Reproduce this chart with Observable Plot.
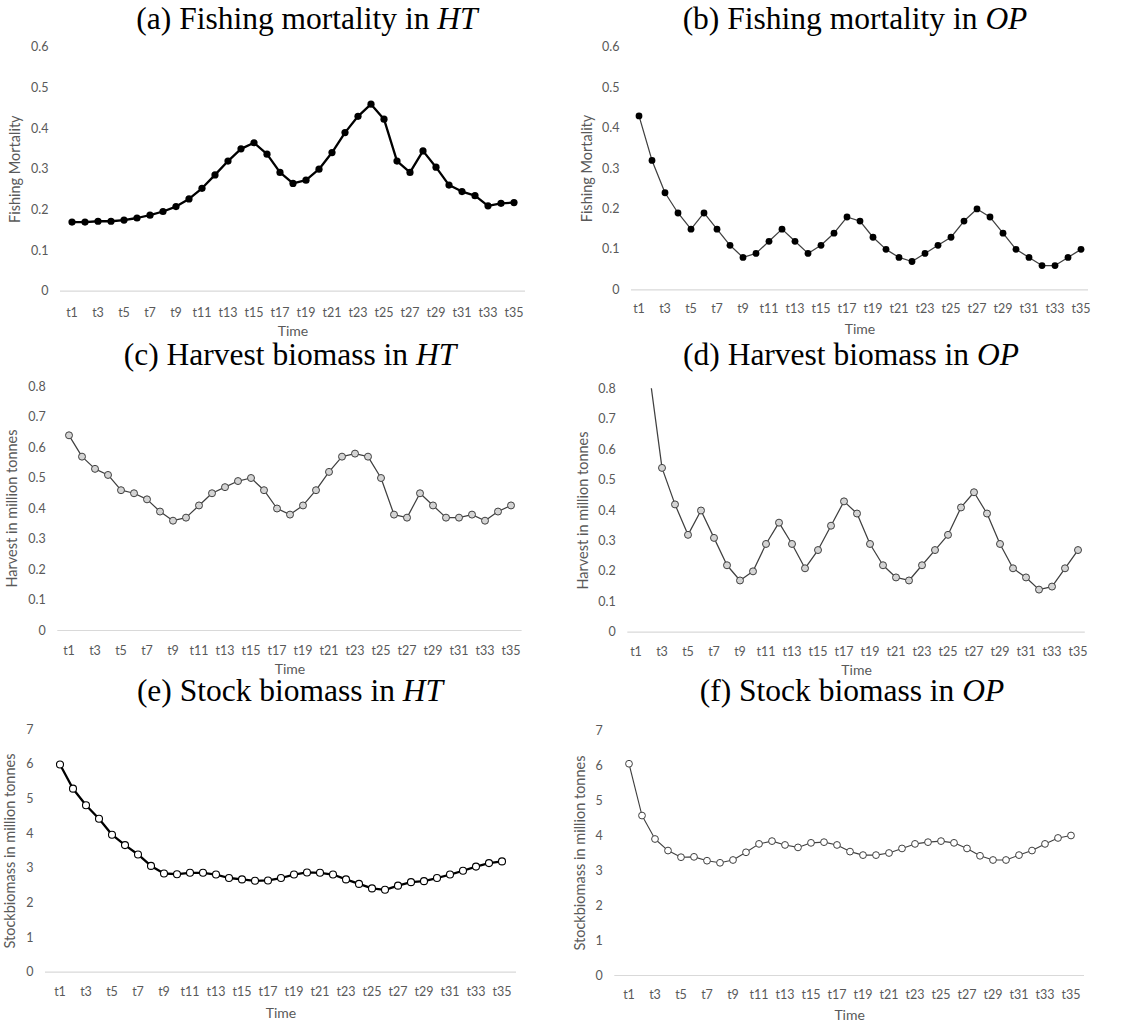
<!DOCTYPE html>
<html><head><meta charset="utf-8">
<script src="https://cdn.jsdelivr.net/npm/d3@7"></script>
<script src="https://cdn.jsdelivr.net/npm/@observablehq/plot@0.6"></script>
<style>
body{margin:0;background:#fff;}
#fig{position:relative;width:1137px;height:1023px;overflow:hidden;background:#fff;}
.title{position:absolute;font-family:"Liberation Serif","Times New Roman",serif;font-size:31.5px;color:#000;white-space:nowrap;transform:translate(-50%,-50%);line-height:24px;height:24px;}
.panel{position:absolute;}
</style></head><body><div id="fig"></div>
<script>
// ---- data ----
const timeLabels = ["t1","t2","t3","t4","t5","t6","t7","t8","t9","t10","t11","t12","t13","t14","t15","t16","t17","t18","t19","t20","t21","t22","t23","t24","t25","t26","t27","t28","t29","t30","t31","t32","t33","t34","t35"];
const xTickLabels = ["t1","t3","t5","t7","t9","t11","t13","t15","t17","t19","t21","t23","t25","t27","t29","t31","t33","t35"];

const fishingHT = [0.17,0.17,0.172,0.172,0.175,0.18,0.187,0.196,0.208,0.227,0.253,0.286,0.32,0.35,0.365,0.337,0.292,0.265,0.273,0.3,0.341,0.39,0.43,0.46,0.423,0.32,0.292,0.345,0.305,0.261,0.245,0.235,0.21,0.216,0.218];
const fishingOP = [0.43,0.32,0.24,0.19,0.15,0.19,0.15,0.11,0.08,0.09,0.12,0.15,0.12,0.09,0.11,0.14,0.18,0.17,0.13,0.10,0.08,0.07,0.09,0.11,0.13,0.17,0.20,0.18,0.14,0.10,0.08,0.06,0.06,0.08,0.10];
const harvestHT = [0.64,0.57,0.53,0.51,0.46,0.45,0.43,0.39,0.36,0.37,0.41,0.45,0.47,0.49,0.50,0.46,0.40,0.38,0.41,0.46,0.52,0.57,0.58,0.57,0.50,0.38,0.37,0.45,0.41,0.37,0.37,0.38,0.36,0.39,0.41];
const harvestOP = [1.25,0.86,0.54,0.42,0.32,0.40,0.31,0.22,0.17,0.20,0.29,0.36,0.29,0.21,0.27,0.35,0.43,0.39,0.29,0.22,0.18,0.17,0.22,0.27,0.32,0.41,0.46,0.39,0.29,0.21,0.18,0.14,0.15,0.21,0.27];
const stockHT = [6.0,5.3,4.82,4.43,3.97,3.67,3.4,3.07,2.85,2.83,2.87,2.87,2.82,2.72,2.68,2.64,2.65,2.72,2.82,2.88,2.87,2.82,2.68,2.55,2.42,2.38,2.5,2.6,2.63,2.72,2.82,2.93,3.05,3.15,3.2];
const stockOP = [6.05,4.57,3.9,3.57,3.38,3.39,3.28,3.22,3.3,3.52,3.76,3.84,3.73,3.66,3.79,3.81,3.73,3.54,3.44,3.44,3.5,3.63,3.76,3.81,3.84,3.79,3.63,3.42,3.3,3.3,3.44,3.57,3.76,3.93,4.0];

const fishingTicks = [0,0.1,0.2,0.3,0.4,0.5,0.6];
const harvestTicks = [0,0.1,0.2,0.3,0.4,0.5,0.6,0.7,0.8];
const stockTicks = [0,1,2,3,4,5,6,7];

const titleMain = ["(a) Fishing mortality in ","(b) Fishing mortality in ","(c) Harvest biomass in ","(d) Harvest biomass in ","(e) Stock biomass in ","(f) Stock biomass in "];
const titleItalic = ["HT","OP","HT","OP","HT","OP"];
const yLabels = ["Fishing Mortality","Fishing Mortality","Harvest in million tonnes","Harvest in million tonnes","Stockbiomass in million tonnes","Stockbiomass in million tonnes"];
const xLabel = "Time";

// ---- styles ----
const tickFont = 12.5;
const labelFont = 14;
const styles = {
  boldFilled: {line:{stroke:"#000",strokeWidth:2.3}, dot:{r:3.6,fill:"#000",stroke:"none"}},
  thinFilled: {line:{stroke:"#404040",strokeWidth:1.25}, dot:{r:3.4,fill:"#000",stroke:"none"}},
  thinRing:   {line:{stroke:"#404040",strokeWidth:1.25}, dot:{r:3.5,fill:"#d4d4d4",stroke:"#404040",strokeWidth:1}},
  boldHollow: {line:{stroke:"#000",strokeWidth:2.3}, dot:{r:3.5,fill:"#fff",stroke:"#000",strokeWidth:1.1}},
  thinHollow: {line:{stroke:"#404040",strokeWidth:1.1}, dot:{r:3.4,fill:"#fff",stroke:"#404040",strokeWidth:1}}
};

const panels = [
  {values:fishingHT, yMax:0.6, yTicks:fishingTicks, style:"boldFilled", tx:307, ty:19, left:0,   top:40,  width:570, height:305, mL:60,   mR:45,   mT:6.7,  mB:54.3, tickOff:21,   timeOff:41,   yLabOff:49.7},
  {values:fishingOP, yMax:0.6, yTicks:fishingTicks, style:"thinFilled", tx:855, ty:19, left:570, top:40,  width:567, height:305, mL:61,   mR:49,   mT:6.7,  mB:55.7, tickOff:18.7, timeOff:40.4, yLabOff:48.7},
  {values:harvestHT, yMax:0.8, yTicks:harvestTicks, style:"thinRing",   tx:290, ty:355, left:0,  top:375, width:570, height:305, mL:57.3, mR:48.4, mT:11,   mB:50,   tickOff:20,   timeOff:39.5, yLabOff:50},
  {values:harvestOP, yMax:0.8, yTicks:harvestTicks, style:"thinRing",   tx:851, ty:355, left:570,top:375, width:567, height:305, mL:57.3, mR:52.2, mT:13.3, mB:48.3, tickOff:19.3, timeOff:38.8, yLabOff:49},
  {values:stockHT,   yMax:7,   yTicks:stockTicks,   style:"boldHollow", tx:290, ty:691, left:0,  top:715, width:570, height:308, mL:45,   mR:54,   mT:14.3, mB:51.3, tickOff:19.3, timeOff:41.6, yLabOff:39.7},
  {values:stockOP,   yMax:7,   yTicks:stockTicks,   style:"thinHollow", tx:852, ty:691, left:570,top:715, width:567, height:308, mL:44.3, mR:53,   mT:15,   mB:48,   tickOff:19,   timeOff:41,   yLabOff:39}
];

const fig = document.getElementById("fig");
panels.forEach((p, i) => {
  const data = timeLabels.map((t, k) => ({t, v: p.values[k]}));
  const st = styles[p.style];
  const chart = Plot.plot({
    width: p.width, height: p.height,
    marginLeft: p.mL, marginRight: p.mR, marginTop: p.mT, marginBottom: p.mB,
    style: {fontFamily: "Lato, 'Open Sans', sans-serif", fontSize: tickFont + "px", color: "#595959", background: "transparent", overflow: "visible"},
    x: {type: "band", domain: timeLabels, padding: 0, axis: null},
    y: {domain: [0, p.yMax], axis: null},
    marks: [
      Plot.ruleY([0], {stroke: "#d9d9d9", strokeWidth: 1.2}),
      Plot.axisX({ticks: xTickLabels, tickSize: 0, tickPadding: p.tickOff - 4.5, fill: "#595959", fontSize: tickFont,
        label: null}),
      Plot.axisX({ticks: [], tickSize: 0, fill: "#595959", fontSize: labelFont,
        label: xLabel, labelAnchor: "center", labelOffset: p.timeOff + 3 + (labelFont - 12) * 0.35, labelArrow: "none"}),
      Plot.axisY({ticks: p.yTicks, tickSize: 0, tickPadding: 12, tickFormat: d => String(d), fill: "#595959", fontSize: tickFont,
        label: null}),
      Plot.axisY({ticks: [], tickSize: 0, fill: "#595959", fontSize: labelFont + 0.5,
        label: yLabels[i], labelAnchor: "center", labelOffset: p.yLabOff + (labelFont + 0.5 - 12) * 0.35, labelArrow: "none"}),
      Plot.line(data, {x: "t", y: "v", ...st.line, clip: true}),
      Plot.dot(data, {x: "t", y: "v", ...st.dot, clip: true})
    ]
  });
  const wrap = document.createElement("div");
  wrap.className = "panel";
  wrap.style.left = p.left + "px";
  wrap.style.top = p.top + "px";
  wrap.appendChild(chart);
  fig.appendChild(wrap);

  const title = document.createElement("div");
  title.className = "title";
  title.style.left = p.tx + "px";
  title.style.top = p.ty + "px";
  title.appendChild(document.createTextNode(titleMain[i]));
  const it = document.createElement("i");
  it.textContent = titleItalic[i];
  title.appendChild(it);
  fig.appendChild(title);
});
</script>
</body></html>
